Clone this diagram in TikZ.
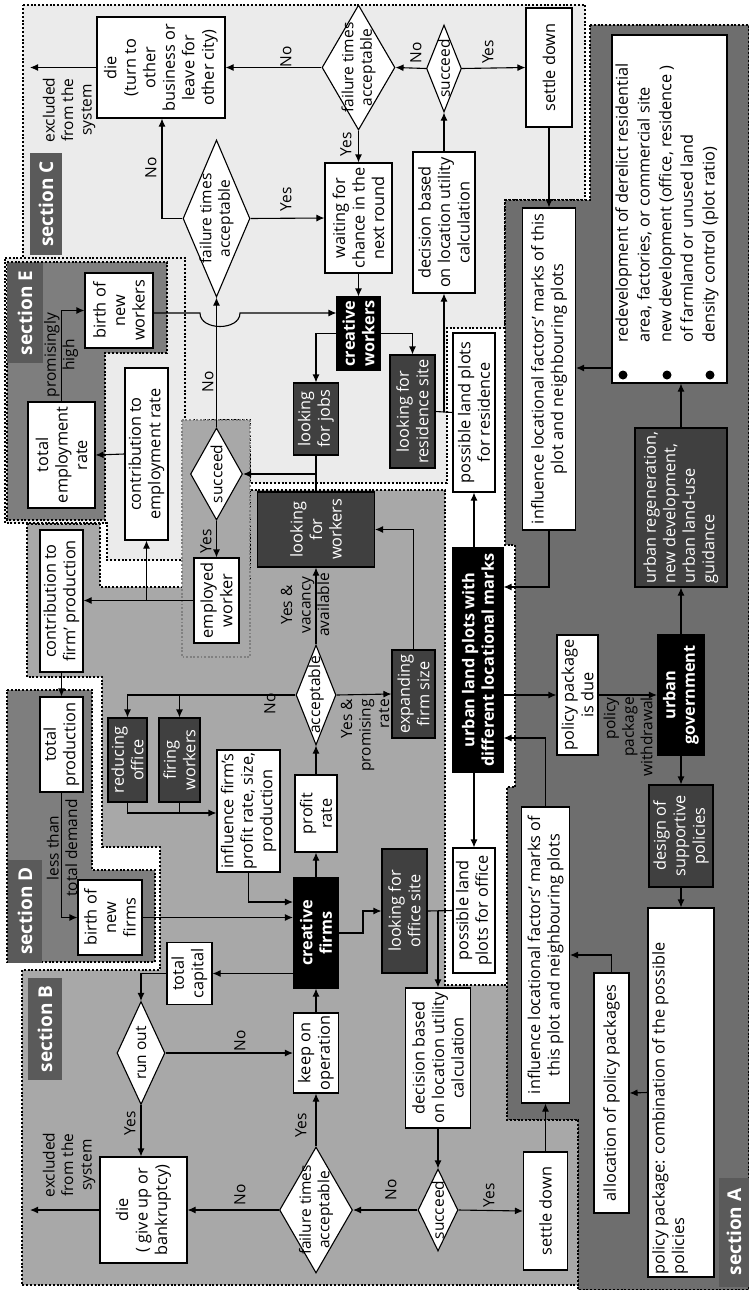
\documentclass[tikz,border=0pt]{standalone}
\usepackage{fontspec}
\setmainfont{Open Sans}
\usetikzlibrary{shapes.geometric,arrows.meta}
\definecolor{cbg}{HTML}{EBEBEB}
\definecolor{bbg}{HTML}{A8A8A8}
\definecolor{abg}{HTML}{6E6E6E}
\definecolor{debg}{HTML}{7E7E7E}
\definecolor{secfill}{HTML}{5A5A5A}
\definecolor{dkbox}{HTML}{404040}
\newcommand{\dfs}{\fontsize{16.3}{19.5}\selectfont}
\newcommand{\lfs}{\fontsize{15.5}{18.5}\selectfont}
\newcommand{\secfs}{\fontsize{19}{22}\selectfont\bfseries}
\tikzset{
  base/.style={rotate=90, draw=black, line width=1.1pt, inner sep=1pt, align=center, font=\dfs},
  wbox/.style={base, fill=white},
  dbox/.style={base, fill=dkbox, text=white},
  bbox/.style={base, fill=black, text=white, font=\dfs\bfseries},
  dia/.style={rotate=90, diamond, draw=black, fill=white, line width=1.1pt, inner sep=0pt},
  sz/.style 2 args={minimum width=#1pt, minimum height=#2pt},
  lbl/.style={rotate=90, inner sep=0pt, align=center, font=\lfs},
  sec/.style={rotate=90, fill=secfill, text=white, font=\secfs, inner sep=0pt},
  arr/.style={line width=1.1pt, -{Latex[length=8pt,width=7pt]}},
  ln/.style={line width=1.1pt},
  zone/.style={draw=black, line width=2pt, dash pattern=on 2pt off 1.8pt},
  gzone/.style={draw=gray, line width=1.8pt, dash pattern=on 1.8pt off 1.8pt},
}
\begin{document}
\begin{tikzpicture}[x=1pt,y=-1pt]
\useasboundingbox (0,0) rectangle (749,1290);
\fill[white] (0,0) rectangle (749,1290);

% ---------- section areas ----------
\draw[fill=cbg, zone] (23,5) -- (585,5) -- (585,200) -- (505,200) -- (505,328) -- (447,328)
  -- (447,483) -- (250,483) -- (250,420) -- (182,420) -- (182,258) -- (23,258) -- cycle;
\draw[fill=abg, zone] (590,25) -- (749,25) -- (749,1290) -- (578,1290) -- (578,1120) -- (507,1120)
  -- (507,787) -- (515,787) -- (515,545) -- (505,545) -- (505,200) -- (590,200) -- cycle;
\draw[fill=bbg, zone] (27,524) -- (100,524) -- (100,587) -- (250,587) -- (250,490) -- (445,490)
  -- (445,985) -- (507,985) -- (507,1120) -- (578,1120) -- (578,1285) -- (22,1285) -- (22,970)
  -- (160,970) -- (160,847) -- (102,847) -- (102,677) -- (27,677) -- cycle;
\draw[fill=cbg, zone] (5,258) -- (185,258) -- (185,560) -- (107,560) -- (107,523) -- (5,523) -- cycle;
\draw[fill=debg, zone] (7,262) -- (167,262) -- (167,353) -- (105,353) -- (105,520) -- (7,520) -- cycle;
\draw[fill=debg, zone] (7,690) -- (92,690) -- (92,870) -- (155,870) -- (155,962) -- (7,962) -- cycle;
\draw[fill=bbg, gzone] (182,420) rectangle (250,657);

% ---------- section tags ----------
\node[sec, sz={109}{30}] (secA) at (734,1232) {section A};
\node[sec, sz={102}{34}] (secB) at (45,1029) {section B};
\node[sec, sz={102}{32}] (secC) at (46,204) {section C};
\node[sec, sz={103}{34}] (secD) at (25,911) {section D};
\node[sec, sz={100}{36}] (secE) at (25,313) {section E};

% ---------- creative workers ----------
\node[wbox, sz={101}{128}] (dieC) at (161,67.5) {die\\(turn to\\other\\business or\\leave for\\other city)};
\node[dia, sz={157}{67}] (cfail) at (216.5,218.5) {};
\node[lbl] (cfailT) at (cfail) {failure times\\acceptable};
\node[dia, sz={125}{73}] (cfail2) at (358.5,67.5) {};
\node[lbl] (cfail2T) at (cfail2) {failure times\\acceptable};
\node[wbox, sz={110}{67}] (waitC) at (358.5,218) {waiting for\\chance in the\\next round};
\node[bbox, sz={73}{43}] (cworkers) at (358.5,333.5) {creative\\workers};
\node[dia, sz={87}{35}] (csucc) at (444,68.5) {};
\node[lbl] (csuccT) at (csucc) {succeed};
\node[wbox, sz={141}{62}] (decC) at (444,222.5) {decision based\\on location utility\\calculation};
\node[wbox, sz={119}{46}] (settleC) at (549,67.5) {settle down};
\node[wbox, sz={322}{53}] (influC) at (549,369) {influence locational factors' marks of this\\plot and neighbouring plots};
\node[dbox, sz={72}{45}] (jobs) at (316,419) {looking\\for jobs};
\node[dbox, sz={113}{45}] (resid) at (412.5,411.5) {looking for\\residence site};
\node[wbox, sz={159}{42}] (plotsRes) at (474,412.5) {possible land plots\\for residence};
\node[dia, sz={92}{52}] (jsucc) at (216.5,474) {};
\node[lbl] (jsuccT) at (jsucc) {succeed};
\node[wbox, sz={85}{45}] (employed) at (216.5,600.5) {employed\\worker};
\node[wbox, sz={172}{43}] (contribE) at (146.5,454) {contribution to\\employment rate};
\node[wbox, sz={106}{67}] (totEmp) at (61.5,455) {total\\employment\\rate};
\node[wbox, sz={75}{68}] (birthW) at (119,310.5) {birth of\\new\\workers};

% ---------- creative firms ----------
\node[wbox, sz={142}{43}] (contribF) at (61.5,601) {contribution to\\firm' production};
\node[wbox, sz={95}{43}] (totProd) at (61.5,744.5) {total\\production};
\node[wbox, sz={75}{64}] (birthF) at (110,917.5) {birth of\\new\\firms};
\node[dbox, sz={84}{39}] (reduce) at (127.5,760) {reducing\\office};
\node[dbox, sz={84}{41}] (fire) at (179.5,760) {firing\\workers};
\node[wbox, sz={122}{63}] (infF) at (248.5,811) {influence firm's\\profit rate, size,\\production};
\node[dia, sz={100}{40}] (accept) at (316,695) {};
\node[lbl] (acceptT) at (accept) {acceptable};
\node[wbox, sz={77}{42}] (profit) at (316,813.5) {profit\\rate};
\node[bbox, sz={110}{45}] (cfirms) at (316,933) {creative\\firms};
\node[dbox, sz={88}{43}] (expand) at (413.5,694) {expanding\\firm size};
\node[dbox, sz={75}{117}] (lworkers) at (316,529.5) {looking\\for\\workers};
\node[dbox, sz={124}{45}] (office) at (404.5,911) {looking for\\office site};
\node[wbox, sz={125}{42}] (plotsOff) at (474,910.5) {possible land\\plots for office};
\node[wbox, sz={140}{65}] (decB) at (438,1058) {decision based\\on location utility\\calculation};
\node[dia, sz={82}{40}] (bsucc) at (438,1210) {};
\node[lbl] (bsuccT) at (bsucc) {succeed};
\node[dia, sz={126}{73}] (bfail) at (316,1210) {};
\node[lbl] (bfailT) at (bfail) {failure times\\acceptable};
\node[wbox, sz={80}{45}] (keep) at (316,1053) {keep on\\operation};
\node[wbox, sz={62}{45}] (capital) at (189.5,973.5) {total\\capital};
\node[dia, sz={103}{48}] (runout) at (141,1053) {};
\node[lbl] (runoutT) at (runout) {run out};
\node[wbox, sz={106}{87}] (dieB) at (143.5,1210) {die\\( give up or\\bankruptcy)};
\node[wbox, sz={118}{44}] (settleB) at (545.5,1211) {settle down};
\node[wbox, sz={296}{48}] (influB) at (545.5,955) {influence locational factors' marks of\\this plot and neighbouring plots};

% ---------- urban government ----------
\node[bbox, sz={224}{50}] (urban) at (478,660) {urban land plots with\\different locational marks};
\node[wbox, sz={120}{41}] (policyDue) at (577.5,695) {policy package\\is due};
\node[bbox, sz={120}{47}] (gov) at (681,695) {urban\\government};
\node[dbox, sz={159}{92}, align=left] (regen) at (681,507.5) {urban regeneration,\\new development,\\urban land-use\\guidance};
\node[wbox, sz={348}{115}] (redev) at (669.5,209) {};
\node[lbl, anchor=west, align=left, font=\fontsize{16.3}{21.7}\selectfont] (redevT) at (667,343) {redevelopment of derelict residential\\area, factories, or commercial site\\new development (office, residence )\\of farmland or unused land\\density control (plot ratio)};
\fill (623,375) circle[radius=4.5pt];
\fill (667,375) circle[radius=4.5pt];
\fill (710,375) circle[radius=4.5pt];
\node[dbox, sz={102}{64}] (design) at (681,836) {design of\\supportive\\policies};
\node[wbox, sz={369}{66}] (pkg) at (681,1092.5) {};
\node[lbl, anchor=north west, align=left, font=\dfs] (pkgT) at (652,1275) {policy package: combination of the possible\\policies};
\node[wbox, sz={240}{35}] (alloc) at (611.5,1093) {allocation of policy packages};

\coordinate (exitC) at (30,67.5);
\coordinate (exitB) at (30,1210);

% ---------- connectors: workers ----------
\draw[arr] (cfail2.north) -- (dieC.south);
\draw[arr] (dieC.north) -- (exitC);
\draw[arr] (cfail.north) -| (dieC.west -| 162,0);
\draw[arr] (cfail.south) -- (waitC.north);
\draw[arr] (cfail2.west) -- (waitC.east);
\draw[arr] (csucc.north) -- (cfail2.south);
\draw[arr] (csucc.south) -- (settleC.north);
\draw[arr] (decC.east) -- (csucc.west);
\draw[ln] (resid.south) -- (plotsRes.north);
\draw[arr] (decC.west |- resid.south) -- (decC.west);
\draw[arr] (waitC.west) -- (cworkers.east);
\draw[arr] (birthW.south |- 0,313) -- (200,313) .. controls (200,331) and (240,331) .. (240,313) -- (cworkers.north |- 0,313);
\draw[arr] (cworkers.north) -| (jobs.east);
\draw[arr] (cworkers.south) -| (resid.east);
\draw[ln] (jobs.west) -- (lworkers.east);
\draw[arr] (jobs.west |- jsucc.south) -- (jsucc.south);
\draw[arr] (jsucc.east) -- (cfail.west);
\draw[arr] (jsucc.west) -- (employed.east);
\draw[arr] (employed.north) -- (employed.north -| contribF.south);
\draw[arr] (contribE.west |- employed.north) -- (contribE.west);
\draw[arr] (contribE.north) -- (totEmp.south);
\draw[arr] (totEmp.east) |- (birthW.north);

% ---------- connectors: firms ----------
\draw[arr] (contribF.west) -- (totProd.east);
\draw[arr] (totProd.west) |- (birthF.north);
\draw[arr] (birthF.south) -- (cfirms.north |- birthF.south);
\draw[arr] (infF.west) |- (cfirms.north |- 0,902);
\draw[arr] (accept.north) -| (reduce.east);
\draw[arr] (fire.east |- accept.north) -- (fire.east);
\draw[arr] (reduce.west) |- (infF.north |- 0,813);
\draw[ln] (fire.west) -- (fire.west |- 0,813);
\draw[arr] (accept.east) -- (lworkers.west);
\draw[arr] (accept.south) -- (expand.north);
\draw[arr] (expand.east) |- (lworkers.south);
\draw[arr] (cfirms.east) -- (profit.west);
\draw[arr] (profit.east) -- (accept.west);
\draw[arr] (cfirms.south) -- (363,933) |- (office.north);
\draw[ln] (office.south) -- (plotsOff.north);
\draw[arr] (decB.east |- office.south) -- (decB.east);
\draw[arr] (decB.west) -- (bsucc.east);
\draw[arr] (bsucc.south) -- (settleB.north);
\draw[arr] (bsucc.north) -- (bfail.south);
\draw[arr] (bfail.east) -- (keep.west);
\draw[arr] (bfail.north) -- (dieB.south);
\draw[arr] (dieB.north) -- (exitB);
\draw[arr] (keep.east) -- (cfirms.west);
\draw[arr] (runout.south) -- (keep.north);
\draw[arr] (runout.west) -- (runout.west |- dieB.east);
\draw[arr] (cfirms.north |- capital.south) -- (capital.south);
\draw[arr] (capital.north) -| (runout.east);
\draw[arr] (settleB.east) -- (influB.west);

% ---------- connectors: government ----------
\draw[arr] (urban.west -| plotsOff.east) -- (plotsOff.east);
\draw[arr] (urban.east -| plotsRes.west) -- (plotsRes.west);
\draw[arr] (influC.west) |- (urban.south |- 0,587);
\draw[arr] (settleC.west) -- (influC.east);
\draw[arr] (redev.north |- 0,368) -- (influC.south |- 0,368);
\draw[arr] (regen.east) -- (regen.east |- redev.west);
\draw[arr] (gov.east) -- (regen.west);
\draw[arr] (urban.south |- policyDue.north) -- (policyDue.north);
\draw[arr] (policyDue.south) -- (gov.north);
\draw[arr] (influB.east) |- (urban.south |- 0,738);
\draw[arr] (gov.west) -- (design.east);
\draw[arr] (design.west) -- (pkg.east);
\draw[arr] (pkg.north) -- (alloc.south);
\draw[arr] (alloc.east) |- (influB.south);

% ---------- branch labels ----------
\node[lbl] (exC) at (69,110) {excluded\\from the\\system};
\node[lbl] (exB) at (69,1165) {excluded\\from the\\system};
\node[lbl] (l1) at (286,57) {No};
\node[lbl] (l2) at (416,53) {No};
\node[lbl] (l3) at (488,52) {Yes};
\node[lbl] (l4) at (286,199) {Yes};
\node[lbl] (l5) at (346,144) {Yes};
\node[lbl] (l6) at (151,168) {No};
\node[lbl] (l7) at (208,382) {No};
\node[lbl] (l8) at (206,541) {Yes};
\node[lbl] (l9) at (270,704) {No};
\node[lbl] (l10) at (240,1041) {No};
\node[lbl] (l11) at (130,1123) {Yes};
\node[lbl] (l12) at (240,1195) {No};
\node[lbl] (l13) at (301,1125) {Yes};
\node[lbl] (l14) at (391,1190) {No};
\node[lbl] (l15) at (489,1195) {Yes};
\node[lbl] (lvac) at (305,605) {Yes \&\\vacancy\\available};
\node[lbl, anchor=east, align=right] (lprom) at (365,699) {Yes \&\\promising\\rate};
\node[lbl, anchor=east, align=right] (lwd) at (628,697) {policy\\package\\withdrawal};
\node[lbl] (lhigh) at (61,355) {promisingly\\high};
\node[lbl] (ldem) at (62,848) {less than\\total demand};
\end{tikzpicture}
\end{document}
